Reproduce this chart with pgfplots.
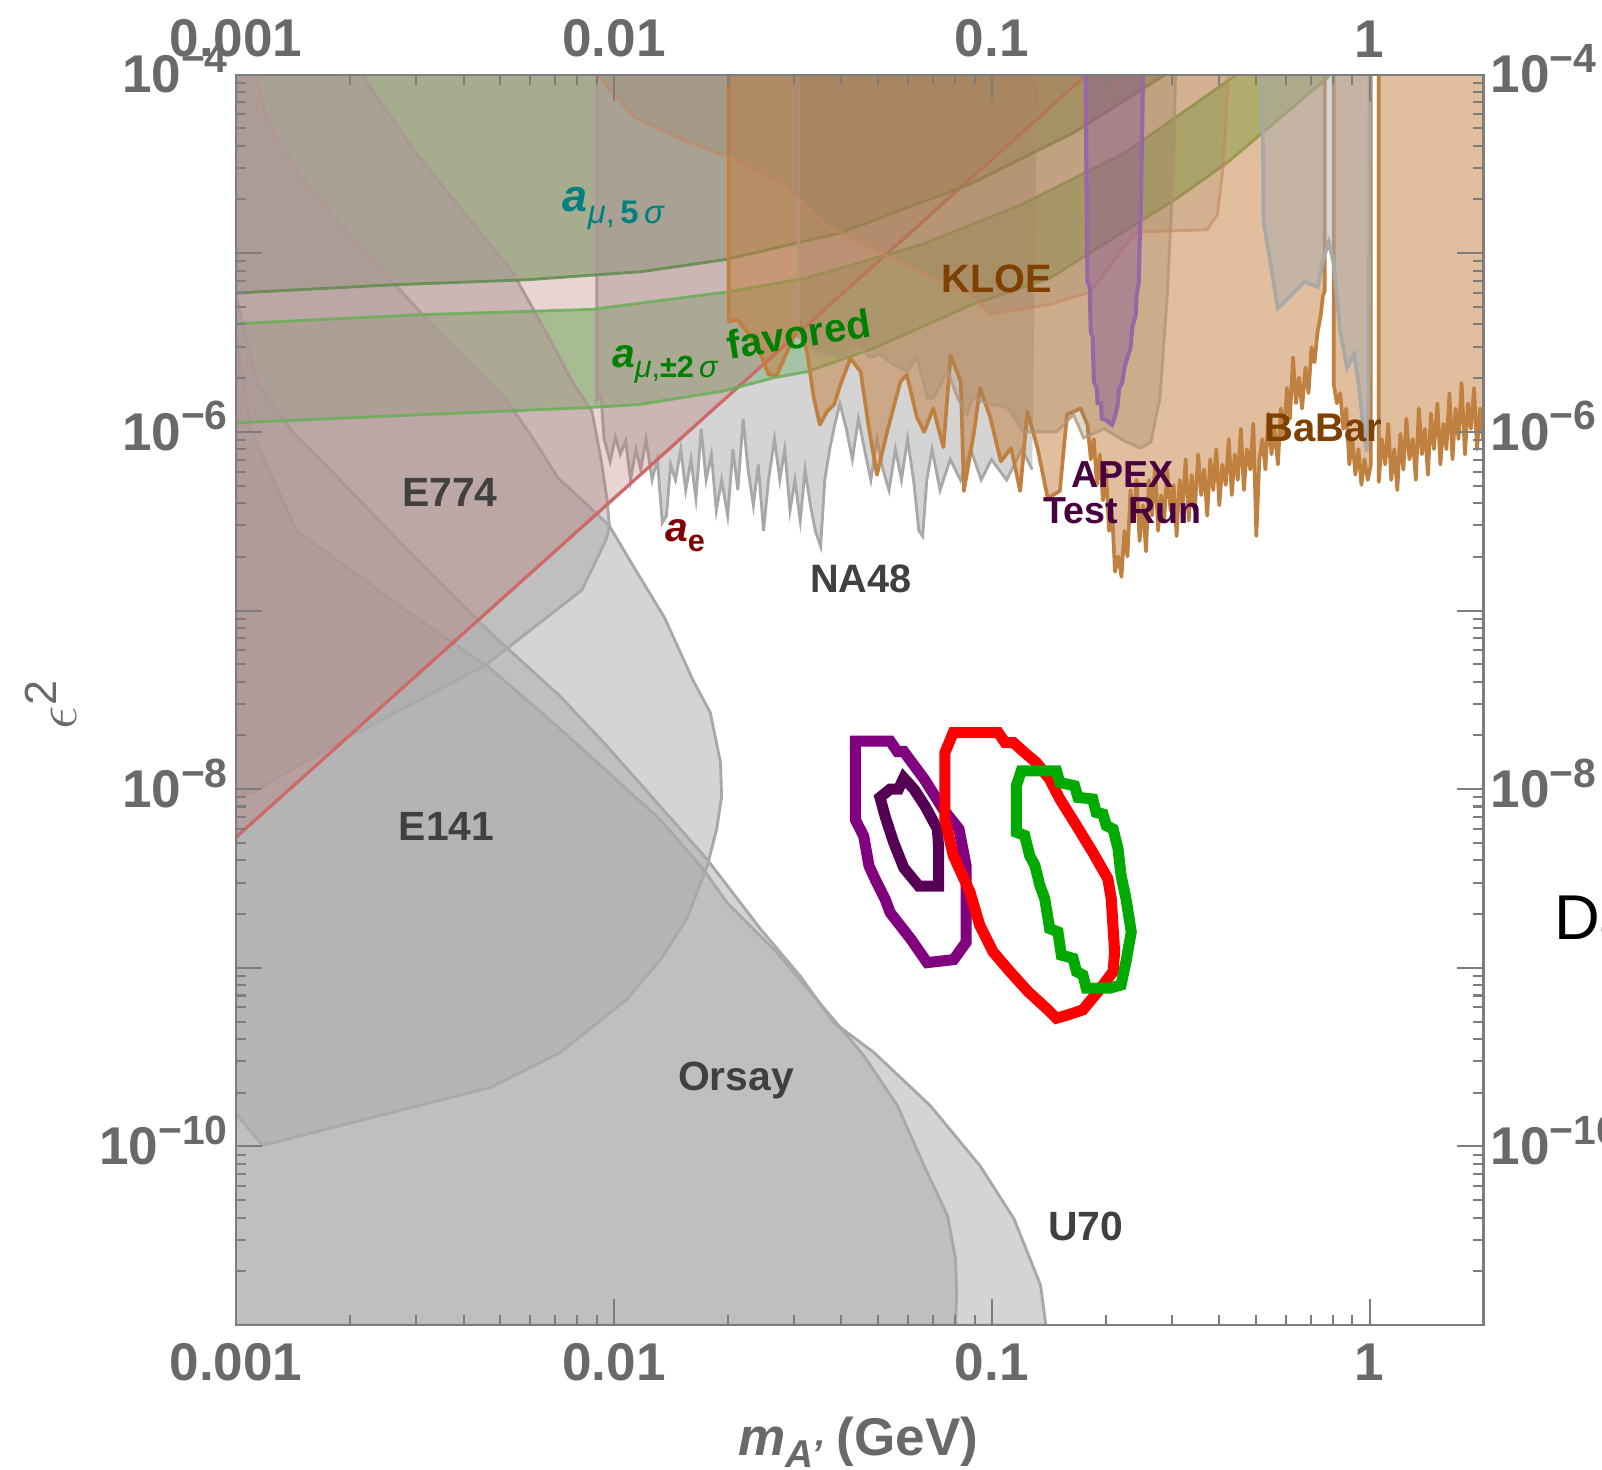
\documentclass[border=0pt]{standalone}
\usepackage{pgfplots}
\usepackage{pgfplotstable}
\pgfplotsset{compat=1.18}
\usepackage{fontspec}
\setmainfont{Liberation Sans}
\setsansfont{Liberation Sans}

\definecolor{axisgray}{RGB}{125,125,125}
\definecolor{tickgray}{RGB}{105,105,105}
\definecolor{labgray}{RGB}{64,64,64}
\definecolor{bnd}{RGB}{168,168,168}
\definecolor{grayfill}{RGB}{170,170,170}
\definecolor{aefill}{RGB}{185,110,110}
\definecolor{aeline}{RGB}{205,105,105}
\definecolor{fivefill}{RGB}{61,145,59}
\definecolor{fiveline}{RGB}{95,140,75}
\definecolor{twofill}{RGB}{67,190,67}
\definecolor{twoline}{RGB}{105,175,85}
\definecolor{babarfill}{RGB}{195,125,60}
\definecolor{babarline}{RGB}{192,128,64}
\definecolor{tanfill}{RGB}{160,130,100}
\definecolor{tanline}{RGB}{180,150,120}
\definecolor{kfill}{RGB}{150,120,90}
\definecolor{kline}{RGB}{200,135,95}
\definecolor{apexfill}{RGB}{140,90,150}
\definecolor{apexline}{RGB}{150,105,165}
\definecolor{cpurple}{RGB}{128,0,128}
\definecolor{cdpurple}{RGB}{85,0,85}
\definecolor{cred}{RGB}{255,0,0}
\definecolor{cgreen}{RGB}{0,170,0}
\definecolor{brownlab}{RGB}{128,64,0}
\definecolor{apexlab}{RGB}{72,0,64}
\definecolor{aelab}{RGB}{128,0,0}
\definecolor{teallab}{RGB}{0,128,128}
\definecolor{greenlab}{RGB}{0,128,0}

\newcommand{\fs}[1]{\fontsize{#1}{#1}\selectfont}
\newcommand{\pw}[1]{\textbf{10}\smash{\raisebox{5pt}{\fs{10}\bfseries −#1}}}

% all coordinates: x = log10(m_A' / GeV), y = log10(epsilon^2)
\pgfplotstableread[row sep=\\]{
x y\\
-3 -4\\ -3 -5.223\\ -2.589 -5.177\\ -2.234 -5.149\\ -1.926 -5.103\\ -1.701 -5.034\\
-1.401 -4.886\\ -1.055 -4.611\\ -0.784 -4.326\\ -0.541 -4\\
}\tFive

\pgfplotstableread[row sep=\\]{
x y\\
-3 -5.394\\ -2.499 -5.343\\ -2.058 -5.314\\ -1.701 -5.217\\ -1.488 -5.137\\ -1.190 -4.954\\
-0.920 -4.726\\ -0.649 -4.440\\ -0.352 -4\\
-0.108 -4\\ -0.111 -4.017\\ -0.376 -4.491\\ -0.509 -4.691\\ -0.738 -4.994\\ -0.844 -5.137\\
-1.050 -5.286\\ -1.312 -5.531\\ -1.488 -5.663\\ -1.577 -5.697\\ -1.709 -5.771\\ -1.931 -5.846\\
-2.058 -5.863\\ -2.499 -5.903\\ -3 -5.949\\
}\tTwo

\pgfplotstableread[row sep=\\]{
x y\\
-3 -4\\ -3 -8.269\\ -0.749 -4\\
}\tAe

\pgfplotstableread[row sep=\\]{
x y\\
-2.667 -4\\ -2.534 -4.411\\ -2.413 -4.731\\ -2.269 -5.103\\ -2.180 -5.440\\ -2.110 -5.720\\
-2.058 -5.886\\ -2.034 -6.154\\ -2.018 -6.383\\ -2.012 -6.526\\ -2.020 -6.600\\ -2.085 -6.886\\
-2.342 -7.309\\ -2.727 -7.737\\ -2.956 -8.017\\ -3 -8.040\\ -3 -4\\
}\tEsevenseven

\pgfplotstableread[row sep=\\]{
x y\\
-2.948 -4\\ -2.924 -4.211\\ -2.851 -4.503\\ -2.784 -4.691\\ -2.692 -4.914\\ -2.586 -5.160\\
-2.499 -5.360\\ -2.394 -5.583\\ -2.288 -5.811\\ -2.215 -6.034\\ -2.148 -6.257\\ -2.069 -6.411\\
-2.012 -6.526\\ -1.948 -6.754\\ -1.866 -7.040\\ -1.791 -7.389\\ -1.745 -7.571\\ -1.718 -7.851\\
-1.715 -8.040\\ -1.728 -8.223\\ -1.753 -8.429\\ -1.807 -8.726\\ -1.877 -8.954\\ -1.966 -9.177\\
-2.142 -9.474\\ -2.326 -9.669\\ -2.697 -9.869\\ -2.930 -9.994\\ -3 -9.817\\ -3 -4\\
}\tEonefour

\pgfplotstableread[row sep=\\]{
x y\\
-3 -5.240\\ -2.976 -5.440\\ -2.940 -5.737\\ -2.851 -6.000\\ -2.764 -6.183\\ -2.543 -6.669\\
-2.326 -7.126\\ -2.142 -7.480\\ -2.018 -7.760\\ -1.877 -8.097\\ -1.753 -8.394\\ -1.612 -8.783\\
-1.507 -9.046\\ -1.420 -9.303\\ -1.312 -9.474\\ -1.163 -9.771\\ -1.031 -10.109\\ -0.941 -10.406\\
-0.871 -10.777\\ -0.857 -11\\ -3 -11\\
}\tUseventy

\pgfplotstableread[row sep=\\]{
x y\\
-3 -5.469\\ -2.962 -5.983\\ -2.840 -6.554\\ -2.543 -7.011\\ -2.326 -7.326\\ -2.142 -7.663\\
-2.053 -7.834\\ -1.877 -8.171\\ -1.764 -8.446\\ -1.701 -8.634\\ -1.569 -8.914\\ -1.420 -9.286\\
-1.339 -9.491\\ -1.250 -9.771\\ -1.179 -10.109\\ -1.117 -10.389\\ -1.096 -10.629\\ -1.093 -10.817\\
-1.096 -11\\ -3 -11\\
}\tOrsay

\pgfplotstableread[row sep=\\]{
x y\\
-0.880 -4\\ -0.893 -6.211\\ -0.920 -6.097\\ -0.961 -6.269\\ -1.001 -6.154\\ -1.028 -6.269\\
-1.056 -6.097\\ -1.083 -6.269\\ -1.110 -6.154\\ -1.137 -6.326\\ -1.158 -6.097\\ -1.172 -6.269\\
-1.183 -6.583\\ -1.193 -6.554\\ -1.207 -6.269\\ -1.223 -6.040\\ -1.239 -6.269\\ -1.255 -6.097\\
-1.272 -6.326\\ -1.288 -6.211\\ -1.304 -6.040\\ -1.320 -6.269\\ -1.337 -6.097\\ -1.353 -5.926\\
-1.369 -6.154\\ -1.385 -5.983\\ -1.402 -5.840\\ -1.415 -5.954\\ -1.429 -6.097\\ -1.442 -6.269\\
-1.453 -6.640\\ -1.467 -6.554\\ -1.480 -6.411\\ -1.494 -6.211\\ -1.507 -6.497\\ -1.521 -6.269\\
-1.534 -6.440\\ -1.548 -6.097\\ -1.561 -6.269\\ -1.575 -6.040\\ -1.591 -6.269\\ -1.604 -6.554\\
-1.618 -6.183\\ -1.631 -6.411\\ -1.645 -6.211\\ -1.658 -5.926\\ -1.672 -6.326\\ -1.685 -6.097\\
-1.699 -6.469\\ -1.715 -6.269\\ -1.729 -6.440\\ -1.742 -6.126\\ -1.756 -6.269\\ -1.769 -5.983\\
-1.783 -6.371\\ -1.796 -6.154\\ -1.810 -6.326\\ -1.823 -6.097\\ -1.837 -6.269\\ -1.850 -6.183\\
-1.861 -6.469\\ -1.872 -6.509\\ -1.885 -6.154\\ -1.899 -6.269\\ -1.915 -6.040\\ -1.929 -6.211\\
-1.942 -6.097\\ -1.956 -6.269\\ -1.969 -6.051\\ -1.983 -6.126\\ -1.996 -6.029\\ -2.010 -6.166\\
-2.026 -6.040\\ -2.034 -5.800\\ -2.045 -5.823\\ -2.045 -4\\
}\tNA

\pgfplotstableread[row sep=\\]{
x y\\
-1.696 -4\\ -1.696 -5.383\\ -1.674 -5.371\\ -1.647 -5.440\\ -1.612 -5.566\\ -1.590 -5.680\\
-1.569 -5.680\\ -1.542 -5.554\\ -1.507 -5.389\\ -1.488 -5.566\\ -1.471 -5.811\\ -1.455 -5.960\\
-1.436 -5.886\\ -1.417 -5.846\\ -1.401 -5.737\\ -1.374 -5.589\\ -1.347 -5.663\\ -1.325 -5.983\\
-1.304 -6.240\\ -1.277 -6.000\\ -1.242 -5.720\\ -1.225 -5.680\\ -1.198 -5.920\\ -1.179 -6.000\\
-1.155 -5.869\\ -1.128 -6.086\\ -1.109 -5.571\\ -1.082 -5.720\\ -1.074 -6.331\\ -1.047 -6.000\\
-1.031 -5.754\\ -1.004 -5.920\\ -0.976 -6.166\\ -0.949 -6.091\\ -0.925 -6.331\\ -0.906 -5.886\\
-0.879 -6.091\\ -0.852 -6.371\\ -0.820 -6.331\\ -0.801 -5.903\\ -0.765 -5.869\\
-0.747 -5.960\\ -0.738 -6.154\\ -0.730 -6.040\\ -0.722 -6.297\\ -0.714 -6.126\\ -0.706 -6.383\\
-0.698 -6.211\\ -0.690 -6.554\\ -0.682 -6.440\\ -0.674 -6.783\\ -0.665 -6.697\\ -0.657 -6.811\\
-0.649 -6.554\\ -0.641 -6.697\\ -0.633 -6.326\\ -0.625 -6.497\\ -0.617 -6.269\\ -0.609 -6.611\\
-0.600 -6.411\\ -0.592 -6.669\\ -0.584 -6.269\\ -0.576 -6.469\\ -0.568 -6.183\\ -0.560 -6.554\\
-0.552 -6.354\\ -0.544 -6.497\\ -0.536 -6.211\\ -0.527 -6.440\\ -0.519 -6.297\\ -0.511 -6.583\\
-0.503 -6.269\\ -0.495 -6.411\\ -0.487 -6.154\\ -0.479 -6.497\\ -0.471 -6.240\\ -0.463 -6.440\\
-0.454 -6.126\\ -0.446 -6.354\\ -0.438 -6.211\\ -0.430 -6.469\\ -0.422 -6.154\\ -0.414 -6.326\\
-0.406 -6.097\\ -0.398 -6.411\\ -0.390 -6.183\\ -0.381 -6.297\\ -0.373 -6.040\\ -0.365 -6.354\\
-0.357 -6.126\\ -0.349 -6.269\\ -0.341 -5.983\\ -0.333 -6.326\\ -0.325 -6.097\\ -0.316 -6.211\\
-0.308 -5.954\\ -0.300 -6.583\\ -0.292 -6.154\\ -0.284 -6.040\\ -0.276 -6.211\\ -0.268 -5.897\\
-0.260 -6.126\\ -0.252 -5.983\\ -0.243 -6.183\\ -0.235 -5.869\\ -0.227 -6.040\\ -0.219 -5.754\\
-0.211 -5.926\\ -0.203 -5.583\\ -0.195 -5.840\\ -0.187 -5.697\\ -0.179 -5.869\\ -0.170 -5.640\\
-0.162 -5.783\\ -0.154 -5.526\\ -0.146 -5.611\\ -0.138 -5.440\\ -0.130 -5.354\\ -0.124 -5.240\\
-0.119 -5.211\\ -0.119 -4\\
}\tBaA

\pgfplotstableread[row sep=\\]{
x y\\
-0.095 -4\\ -0.095 -5.737\\ -0.087 -5.840\\ -0.078 -5.783\\ -0.070 -5.983\\ -0.062 -5.869\\
-0.054 -6.183\\ -0.046 -6.040\\ -0.038 -6.240\\ -0.030 -6.097\\ -0.022 -6.297\\ -0.014 -6.154\\
-0.005 -6.269\\ 0.003 -6.183\\ 0.003 -4\\
}\tBaB

\pgfplotstableread[row sep=\\]{
x y\\
0.024 -4\\ 0.024 -6.280\\ 0.032 -6.040\\ 0.041 -6.183\\ 0.049 -5.954\\ 0.057 -6.269\\
0.065 -6.097\\ 0.073 -6.326\\ 0.081 -6.011\\ 0.089 -6.211\\ 0.097 -5.926\\ 0.105 -6.154\\
0.114 -6.040\\ 0.122 -6.269\\ 0.130 -5.869\\ 0.138 -6.126\\ 0.146 -5.983\\ 0.154 -6.240\\
0.162 -5.897\\ 0.170 -6.097\\ 0.179 -5.840\\ 0.187 -6.183\\ 0.195 -5.954\\ 0.203 -6.097\\
0.211 -5.783\\ 0.219 -6.154\\ 0.227 -5.869\\ 0.235 -6.040\\ 0.243 -5.726\\ 0.252 -6.126\\
0.260 -5.840\\ 0.268 -5.983\\ 0.276 -5.754\\ 0.284 -6.097\\ 0.292 -5.869\\ 0.300 -6.040\\
0.303 -5.926\\ 0.303 -4\\
}\tBaC

\pgfplotstableread[row sep=\\]{
x y\\
-1.512 -4\\ -1.512 -5.469\\ -1.461 -5.554\\ -1.401 -5.583\\ -1.352 -5.526\\ -1.323 -5.583\\
-1.296 -5.566\\ -1.260 -5.623\\ -1.223 -5.663\\ -1.198 -5.583\\ -1.171 -5.811\\ -1.155 -5.811\\
-1.117 -5.663\\ -1.090 -5.811\\ -1.066 -5.903\\ -1.050 -5.811\\ -1.004 -5.846\\ -0.958 -5.863\\
-0.917 -6.000\\ -0.871 -6.000\\ -0.828 -6.000\\ -0.784 -5.903\\ -0.757 -6.034\\ -0.703 -5.983\\
-0.649 -6.051\\ -0.606 -6.091\\ -0.579 -6.057\\ -0.555 -5.811\\ -0.536 -5.251\\ -0.519 -4.503\\
-0.514 -4\\
}\tTan

\pgfplotstableread[row sep=\\]{
x y\\
-2.045 -4\\ -1.950 -4.234\\ -1.818 -4.366\\ -1.696 -4.463\\ -1.542 -4.629\\ -1.434 -4.851\\
-1.296 -4.994\\ -1.047 -5.246\\ -1.004 -5.343\\ -0.844 -5.286\\ -0.738 -5.217\\ -0.625 -4.897\\
-0.598 -4.880\\ -0.430 -4.869\\ -0.403 -4.783\\ -0.387 -4.503\\ -0.373 -4\\
}\tKloe

\pgfplotstableread[row sep=\\]{
x y\\
-0.284 -4\\ -0.281 -4.823\\ -0.243 -5.309\\ -0.208 -5.234\\ -0.173 -5.160\\ -0.138 -5.189\\
-0.122 -5.029\\ -0.108 -4.937\\ -0.095 -5.063\\ -0.078 -5.440\\ -0.060 -5.640\\ -0.041 -5.566\\
-0.030 -5.720\\ -0.016 -6.000\\ -0.008 -6.109\\ -0.003 -5.811\\ 0 -4\\
}\tGtwo

\pgfplotstableread[row sep=\\]{
x y\\
-0.752 -4\\ -0.749 -4.726\\ -0.747 -5.160\\ -0.741 -5.183\\ -0.738 -5.440\\ -0.733 -5.469\\
-0.730 -5.720\\ -0.722 -5.754\\ -0.720 -5.840\\ -0.711 -5.840\\ -0.709 -5.926\\ -0.695 -5.937\\
-0.682 -5.960\\ -0.676 -5.926\\ -0.668 -5.863\\ -0.663 -5.754\\ -0.655 -5.726\\ -0.649 -5.640\\
-0.641 -5.583\\ -0.633 -5.531\\ -0.628 -5.411\\ -0.619 -5.343\\ -0.617 -5.240\\ -0.611 -5.160\\
-0.609 -4.954\\ -0.606 -4.783\\ -0.603 -4.440\\ -0.600 -4\\
}\tApex

\begin{document}
\begin{tikzpicture}
\begin{axis}[
  at={(0,0)}, anchor=south west, scale only axis,
  width=305.25pt, height=306pt,
  xmin=-3, xmax=0.30103, ymin=-11, ymax=-4,
  axis on top,
  axis line style={draw=axisgray, line width=0.5pt},
  tick style={draw=axisgray, line width=0.5pt},
  major tick length=6.4pt, minor tick length=2.5pt,
  xtick={-3,-2,-1,0},
  xticklabels={\textbf{0.001},\textbf{0.01},\textbf{0.1},\textbf{1}},
  minor xtick={-2.69897,-2.52288,-2.39794,-2.30103,-2.22185,-2.15490,-2.09691,-2.04576,
    -1.69897,-1.52288,-1.39794,-1.30103,-1.22185,-1.15490,-1.09691,-1.04576,
    -0.69897,-0.52288,-0.39794,-0.30103,-0.22185,-0.15490,-0.09691,-0.04576},
  ytick={-11,-10,-9,-8,-7,-6,-5,-4},
  yticklabels={,\pw{10},,\pw{8},,\pw{6},,\pw{4}},
  minor ytick={-10.69897,-10.52288,-10.39794,-10.30103,-10.22185,-10.15490,-10.09691,-10.04576,
    -9.69897,-9.52288,-9.39794,-9.30103,-9.22185,-9.15490,-9.09691,-9.04576,
    -8.69897,-8.52288,-8.39794,-8.30103,-8.22185,-8.15490,-8.09691,-8.04576,
    -7.69897,-7.52288,-7.39794,-7.30103,-7.22185,-7.15490,-7.09691,-7.04576,
    -6.69897,-6.52288,-6.39794,-6.30103,-6.22185,-6.15490,-6.09691,-6.04576,
    -5.69897,-5.52288,-5.39794,-5.30103,-5.22185,-5.15490,-5.09691,-5.04576,
    -4.69897,-4.52288,-4.39794,-4.30103,-4.22185,-4.15490,-4.09691,-4.04576},
  ticklabel style={font=\fs{13}\bfseries, text=tickgray},
  xticklabel style={yshift=-1pt},
  yticklabel style={xshift=1.5pt},
]
% a_mu bands (fills)
\addplot[fill=fivefill, fill opacity=0.5, draw=none] table {\tFive};
\addplot[fill=twofill, fill opacity=0.5, draw=none] table {\tTwo};
% beam dump / gray regions
\addplot[fill=grayfill, fill opacity=0.5, draw=bnd, line width=0.7pt] table {\tEonefour};
\addplot[fill=grayfill, fill opacity=0.5, draw=bnd, line width=0.7pt] table {\tEsevenseven};
\addplot[fill=grayfill, fill opacity=0.5, draw=bnd, line width=0.7pt] table {\tUseventy};
\addplot[fill=grayfill, fill opacity=0.5, draw=bnd, line width=0.7pt] table {\tOrsay};
\addplot[fill=grayfill, fill opacity=0.5, draw=none] table {\tNA};
\addplot[draw=bnd, line width=0.7pt, skip coords between index={0}{1}] table {\tNA};
% a_e
\addplot[fill=aefill, fill opacity=0.3, draw=none] table {\tAe};
\addplot[draw=aeline, line width=0.8pt, skip coords between index={0}{1}] table {\tAe};
% a_mu lines
\addplot[draw=fiveline, line width=0.7pt, draw opacity=0.85, skip coords between index={0}{1}] table {\tFive};
\addplot[draw=twoline, line width=0.7pt, draw opacity=0.85, skip coords between index={9}{100}] table {\tTwo};
\addplot[draw=twoline, line width=0.7pt, draw opacity=0.85, skip coords between index={0}{9}] table {\tTwo};
% BaBar
\addplot[fill=babarfill, fill opacity=0.5, draw=babarline, line width=0.9pt, line join=round] table {\tBaA};
\addplot[fill=babarfill, fill opacity=0.5, draw=babarline, line width=0.9pt, line join=round] table {\tBaB};
\addplot[fill=babarfill, fill opacity=0.5, draw=babarline, line width=0.9pt, line join=round] table {\tBaC};
% other regions
\addplot[fill=tanfill, fill opacity=0.3, draw=tanline, draw opacity=0.8, line width=0.7pt] table {\tTan};
\addplot[fill=kfill, fill opacity=0.2, draw=kline, draw opacity=0.6, line width=0.7pt] table {\tKloe};
\addplot[fill=grayfill, fill opacity=0.5, draw=bnd, line width=0.9pt] table {\tGtwo};
\addplot[fill=apexfill, fill opacity=0.45, draw=apexline, line width=1pt] table {\tApex};

% fit contours
\addplot[draw=cpurple, line width=2.7pt, line join=miter] coordinates {
(-1.361,-7.731) (-1.269,-7.731) (-1.250,-7.789) (-1.233,-7.789) (-1.179,-7.943) (-1.128,-8.114)
(-1.087,-8.223) (-1.068,-8.429) (-1.068,-8.857) (-1.101,-8.954) (-1.171,-8.971) (-1.214,-8.840)
(-1.269,-8.691) (-1.282,-8.617) (-1.309,-8.503) (-1.325,-8.429) (-1.339,-8.263) (-1.361,-8.171)
} -- cycle;
\addplot[draw=cdpurple, line width=2.7pt, line join=miter] coordinates {
(-1.296,-8.046) (-1.269,-8.000) (-1.247,-8.000) (-1.233,-7.937) (-1.206,-8.000) (-1.176,-8.097)
(-1.144,-8.223) (-1.141,-8.320) (-1.141,-8.543) (-1.193,-8.543) (-1.233,-8.440) (-1.260,-8.297)
(-1.282,-8.154)
} -- cycle;
\addplot[draw=cred, line width=2.7pt, line join=miter] coordinates {
(-1.124,-7.795) (-1.102,-7.683) (-0.983,-7.683) (-0.965,-7.739) (-0.943,-7.739) (-0.908,-7.805)
(-0.882,-7.851) (-0.847,-7.944) (-0.820,-8.055) (-0.776,-8.204) (-0.733,-8.353) (-0.693,-8.501)
(-0.684,-8.613) (-0.675,-8.910) (-0.679,-9.021) (-0.719,-9.133) (-0.759,-9.235) (-0.798,-9.263)
(-0.829,-9.282) (-0.856,-9.226) (-0.904,-9.133) (-0.952,-9.021) (-0.997,-8.910) (-1.032,-8.761)
(-1.058,-8.575) (-1.102,-8.371) (-1.124,-8.167)
} -- cycle;
\addplot[draw=cgreen, line width=2.7pt, line join=miter] coordinates {
(-0.935,-7.981) (-0.922,-7.897) (-0.829,-7.897) (-0.820,-7.963) (-0.781,-7.981) (-0.772,-8.046)
(-0.733,-8.055) (-0.724,-8.130) (-0.706,-8.139) (-0.697,-8.204) (-0.679,-8.223) (-0.666,-8.334)
(-0.658,-8.483) (-0.645,-8.613) (-0.631,-8.799) (-0.645,-8.966) (-0.658,-9.096) (-0.688,-9.114)
(-0.750,-9.114) (-0.759,-9.040) (-0.776,-9.021) (-0.785,-8.947) (-0.816,-8.929) (-0.825,-8.799)
(-0.847,-8.780) (-0.860,-8.613) (-0.873,-8.538) (-0.886,-8.427) (-0.900,-8.371) (-0.913,-8.259)
(-0.935,-8.241)
} -- cycle;

% labels
\node[anchor=base, font=\fs{10}\bfseries, text=labgray] at (axis cs:-2.434,-6.417) {E774};
\node[anchor=base, font=\fs{10}\bfseries, text=labgray] at (axis cs:-2.443,-8.286) {E141};
\node[anchor=base, font=\fs{10}\bfseries, text=labgray] at (axis cs:-1.677,-9.686) {Orsay};
\node[anchor=base, font=\fs{10}\bfseries, text=labgray] at (axis cs:-0.752,-10.526) {U70};
\node[anchor=base, font=\fs{9.7}\bfseries, text=labgray] at (axis cs:-1.347,-6.897) {NA48};
\node[anchor=base, font=\fs{9.7}\bfseries, text=brownlab] at (axis cs:-0.987,-5.217) {KLOE};
\node[anchor=base, font=\fs{9.8}\bfseries, text=brownlab] at (axis cs:-0.122,-6.051) {BaBar};
\node[anchor=base, font=\fs{9.2}\bfseries, text=apexlab] at (axis cs:-0.655,-6.314) {APEX};
\node[anchor=base, font=\fs{9.2}\bfseries, text=apexlab] at (axis cs:-0.655,-6.514) {Test Run};
\node[anchor=base, text=aelab, inner sep=0pt] at (axis cs:-1.812,-6.611) {\fs{10}\bfseries\itshape a\raisebox{-2.5pt}{\fs{7.5}\upshape e}};
\node[anchor=base west, text=teallab, inner sep=0pt] at (axis cs:-2.137,-4.766)
  {{\fs{11}\bfseries\itshape a}{\fs{8}\raisebox{-3pt}{\itshape μ\upshape,\,\bfseries 5\,\mdseries\itshape σ}}};
\node[anchor=base west, text=greenlab, inner sep=0pt] at (axis cs:-2.007,-5.640)
  {{\fs{10}\bfseries\itshape a}{\fs{7.5}\raisebox{-2.5pt}{\itshape μ\upshape,\bfseries ±2\,\mdseries\itshape σ}}};
\node[anchor=base, rotate=9, font=\fs{9.8}\bfseries, text=greenlab] at (axis cs:-1.505,-5.530) {favored};
\end{axis}

\begin{axis}[
  at={(0,0)}, anchor=south west, scale only axis,
  width=305.25pt, height=306pt,
  xmin=-3, xmax=0.30103, ymin=-11, ymax=-4,
  axis line style={draw=none},
  major tick length=0pt, minor tick length=0pt,
  tick style={draw=none},
  xtick={-3,-2,-1,0},
  xticklabels={\textbf{0.001},\textbf{0.01},\textbf{0.1},\textbf{1}},
  ytick={-11,-10,-9,-8,-7,-6,-5,-4},
  yticklabels={,\pw{10},,\pw{8},,\pw{6},,\pw{4}},
  xticklabel pos=upper, yticklabel pos=right,
  ticklabel style={font=\fs{13}\bfseries, text=tickgray},
  xticklabel style={yshift=0.7pt},
  yticklabel style={xshift=-1.8pt},
]
\addplot[draw=none] coordinates {(-3,-11)};
\end{axis}

\node[rotate=90, text=tickgray] at (-45.25pt,151.75pt) {\fs{15}$\epsilon$\raisebox{5pt}{\fs{11}2}};
\node[text=tickgray] at (152.25pt,-28.75pt) {\fs{13}\bfseries\itshape m\raisebox{-3pt}{\fs{9.5}A’}\upshape\ (GeV)};
\node[anchor=base west, font=\fs{15.5}, text=black] at (319pt,94.25pt) {Da};

\pgfresetboundingbox
\path[use as bounding box] (-57.75pt,-35.25pt) rectangle (334.25pt,324.25pt);
\end{tikzpicture}
\end{document}
